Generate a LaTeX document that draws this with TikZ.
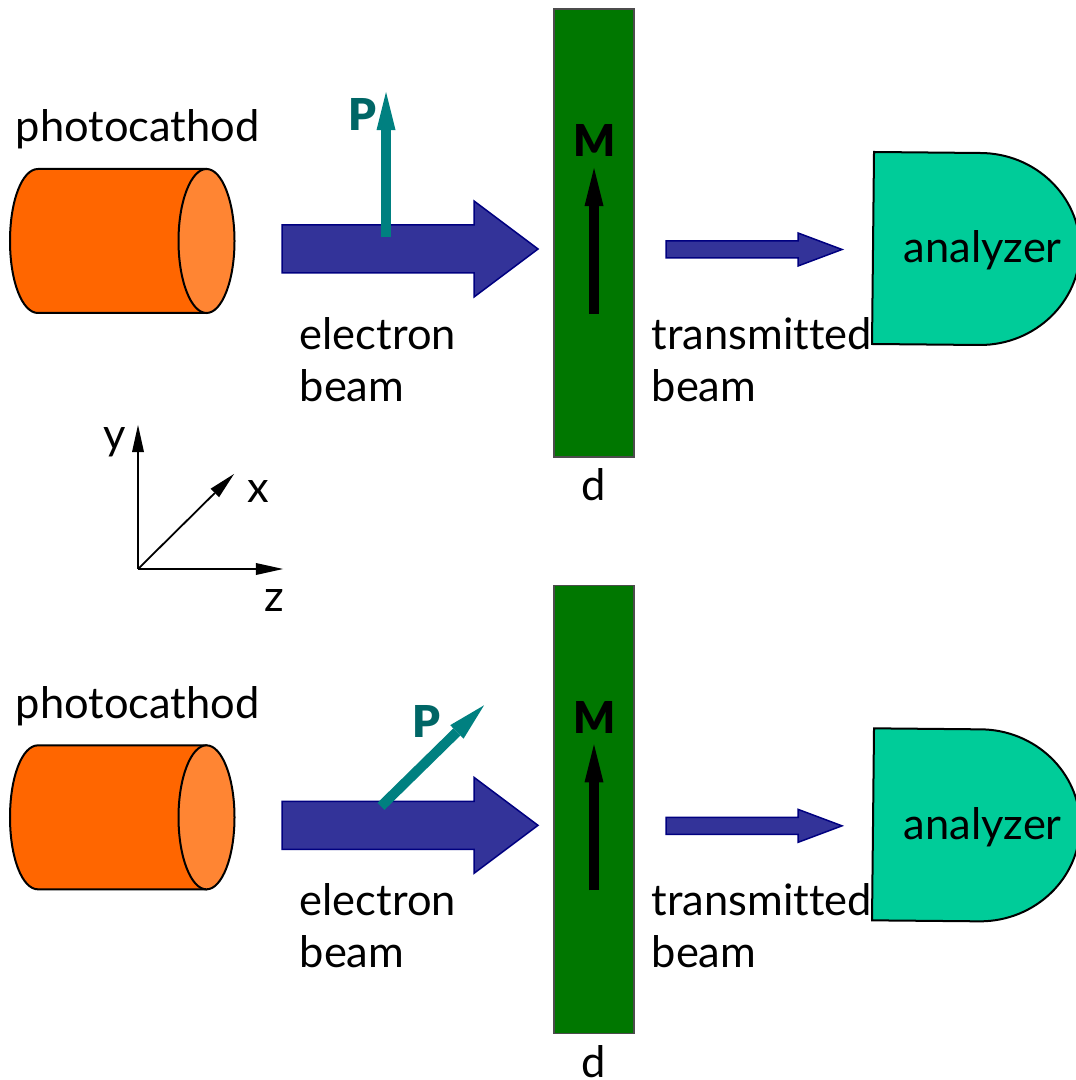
\documentclass[tikz,border=0pt]{standalone}
\usepackage{fontspec}
\setmainfont[Ligatures=NoCommon]{Lato}
\newfontfamily\heavyfont{Lato Black}
\usetikzlibrary{arrows.meta}

\definecolor{cathodebody}{HTML}{FF6600}
\definecolor{cathodeface}{HTML}{FF8533}
\definecolor{beamfill}{HTML}{333399}
\definecolor{beamline}{HTML}{000080}
\definecolor{platefill}{HTML}{007700}
\definecolor{analyzerfill}{HTML}{00CC99}
\definecolor{spinarrow}{HTML}{008080}
\definecolor{spintext}{HTML}{006666}

\begin{document}
\begin{tikzpicture}[
  x=0.01cm, y=-0.01cm,
  outline/.style={draw=black, line width=0.02cm},
  beamarrow/.style={fill=beamfill, draw=beamline, line width=0.015cm, line join=miter},
  thickarrow/.style={line width=0.1cm, -{Triangle[length=0.38cm, width=0.19cm, line width=0pt]}},
  axisarrow/.style={draw=black, line width=0.018cm, -{Triangle[length=0.27cm, width=0.12cm, line width=0pt]}},
  label/.style={anchor=base west, inner sep=0pt, font=\fontsize{12.35}{15}\selectfont},
  boldlabel/.style={anchor=base, inner sep=0pt, font=\fontsize{12.5}{15}\selectfont\heavyfont}
]

\useasboundingbox (0,0) rectangle (1075,1080);

% ==========================================================
% Two setups, the lower one is the upper one moved by 576
% ==========================================================
\foreach \n/\shift/\textup/\tailx/\taily/\tipx/\tipy/\px/\py in {
  a/0/0/386/237/386/92/362/131,
  b/5.76/11/381/230/484/129/426/161
}{
  \begin{scope}[yshift=-\shift cm]
    % photocathode
    \path[outline, fill=cathodebody] (206,169) -- (38,169)
      .. controls (22,169) and (10,201) .. (10,241)
      .. controls (10,281) and (22,313) .. (38,313) -- (206,313) -- cycle;
    \path[outline, fill=cathodeface] (206.5,241) ellipse [x radius=28, y radius=72];
    \node[label] (cathode\n) at (15,142) {photocathod};

    % electron beam
    \path[beamarrow] (282,225) -- (474,225) -- (474,201) -- (538,249)
      -- (474,297) -- (474,273) -- (282,273) -- cycle;
    \node[label] (electron\n) at (299,350-\textup) {electron};
    \node[label] (beam\n) at (299,402-\textup) {beam};

    % polarization
    \coordinate (spinstart\n) at (\tailx,\taily);
    \coordinate (spinend\n) at (\tipx,\tipy);
    \draw[thickarrow, spinarrow] (spinstart\n) -- (spinend\n);
    \node[boldlabel, text=spintext] (spin\n) at (\px,\py) {P};

    % magnetic film
    \path[draw=black!70, fill=platefill, line width=0.015cm] (554,9) rectangle (634,457);
    \node[boldlabel] (mag\n) at (595,157) {M};
    \coordinate (magstart\n) at (594,314);
    \coordinate (magend\n) at (594,168);
    \draw[thickarrow, black] (magstart\n) -- (magend\n);
    \node[label, anchor=base] (thick\n) at (594,501) {d};

    % transmitted beam
    \path[beamarrow] (666,241) -- (798,241) -- (798,233) -- (842,249.5)
      -- (798,266) -- (798,258) -- (666,258) -- cycle;
    \node[label] (trans\n) at (651,350-\textup) {transmitted};
    \node[label] (transbeam\n) at (651,402-\textup) {beam};

    % analyzer
    \path[outline, fill=analyzerfill] (874,152) -- (980,153)
      .. controls (1035,153) and (1080,196) .. (1080,249)
      .. controls (1080,302) and (1035,345) .. (980,345)
      -- (872,344) -- cycle;
    \node[label] (analyzer\n) at (903,263) {analyzer};
  \end{scope}
}

% ==========================================================
% Axes
% ==========================================================
\coordinate (origin) at (138,569);
\coordinate (ytip) at (138,425);
\coordinate (xtip) at (234,474);
\coordinate (ztip) at (283,569);
\draw[axisarrow] (origin) -- (ytip);
\draw[axisarrow] (origin) -- (xtip);
\draw[axisarrow] (origin) -- (ztip);
\node[label] (ylabel) at (103,450) {y};
\node[label] (xlabel) at (247,502) {x};
\node[label] (zlabel) at (264,611) {z};

\end{tikzpicture}
\end{document}
